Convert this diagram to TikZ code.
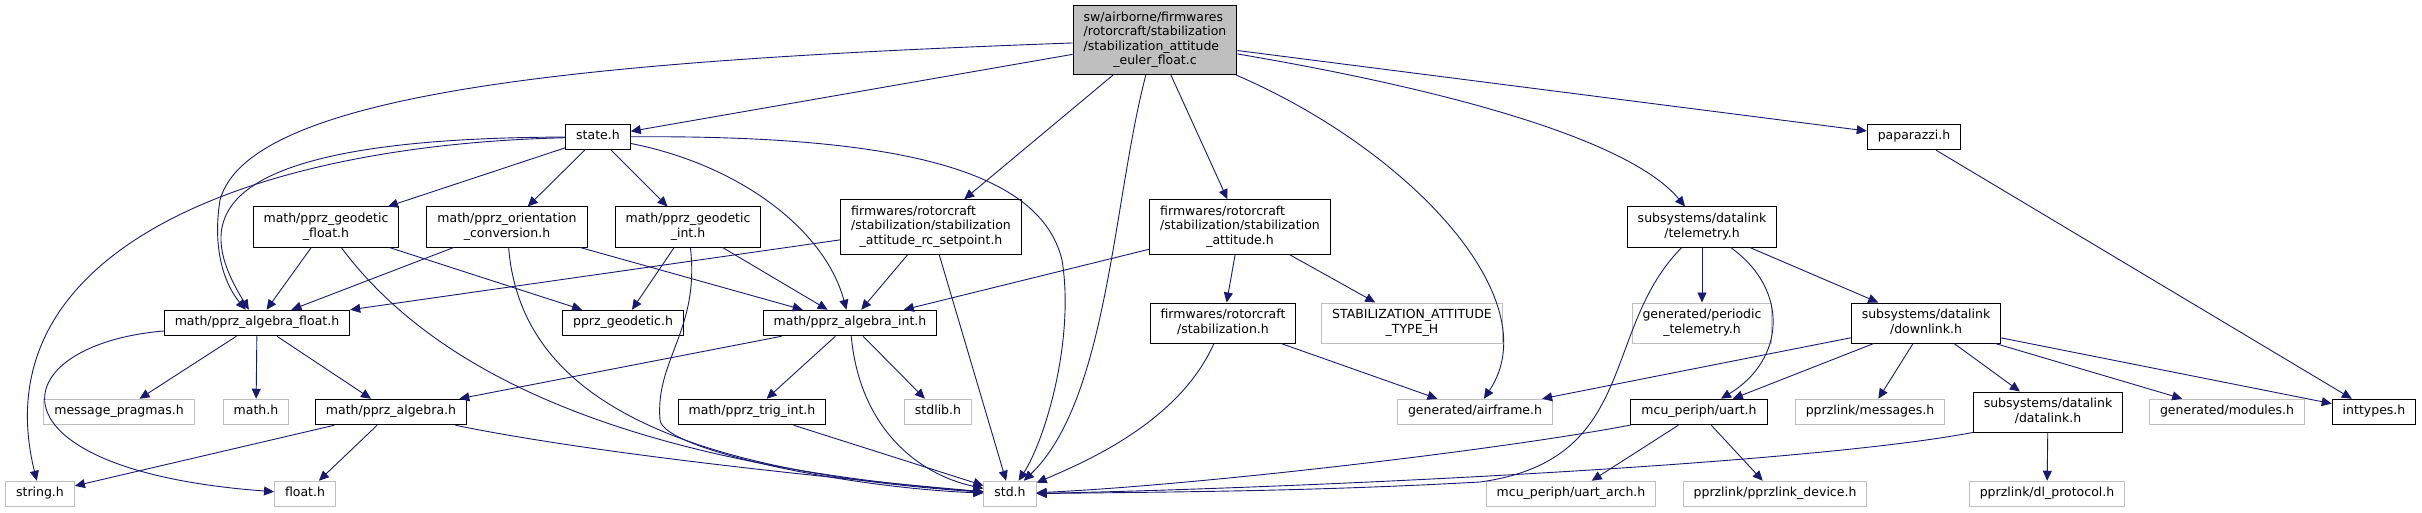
\documentclass[tikz,border=0pt]{standalone}
\usepackage{fontspec}
\setmainfont{DejaVu Sans}
\usepackage{tikz}
\usetikzlibrary{arrows.meta}
\usepackage{xcolor}
\definecolor{edgeblue}{RGB}{25,25,112}
\definecolor{grayline}{RGB}{191,191,191}
\definecolor{rootfill}{RGB}{191,191,191}
% doxygen style label: lines left aligned, last line centred
\newcommand\lbl[1]{\begin{tabular}{@{}l@{}}#1\end{tabular}}
\newcommand\lastc[1]{\multicolumn{1}{@{}c@{}}{#1}}

\tikzset{
  hdr/.style = {draw=black, fill=white, line width=1pt, inner xsep=10.5pt, inner ysep=5.5pt,
                font=\fontsize{12.5}{14.5}\selectfont},
  sys/.style = {hdr, draw=grayline},
  root/.style = {hdr, fill=rootfill},
  inc/.style = {draw=edgeblue, line width=0.9pt, -{Triangle[length=10pt,width=9pt]}}
}

\begin{document}
\begin{tikzpicture}[x=1pt, y=-1pt]
  \useasboundingbox (0,0) rectangle (2422,513);

  % rank 0 and 1
  \node[root] (mainc) at (1155,40) {\lbl{sw/airborne/firmwares\\/rotorcraft/stabilization\\/stabilization\_attitude\\\lastc{\_euler\_float.c}}};
  \node[hdr] (stateh) at (598,137) {\lbl{state.h}};
  \node[hdr] (paparazzi) at (1914,137) {\lbl{paparazzi.h}};

  % rank 2
  \node[hdr] (geofloat) at (326,227) {\lbl{math/pprz\_geodetic\\\lastc{\_float.h}}};
  \node[hdr] (orient) at (507,227) {\lbl{math/pprz\_orientation\\\lastc{\_conversion.h}}};
  \node[hdr] (geoint) at (688,227) {\lbl{math/pprz\_geodetic\\\lastc{\_int.h}}};
  \node[hdr] (rcsp) at (931,227) {\lbl{firmwares/rotorcraft\\/stabilization/stabilization\\\lastc{\_attitude\_rc\_setpoint.h}}};
  \node[hdr] (stabatt) at (1240,227) {\lbl{firmwares/rotorcraft\\/stabilization/stabilization\\\lastc{\_attitude.h}}};
  \node[hdr] (telem) at (1702,227) {\lbl{subsystems/datalink\\\lastc{/telemetry.h}}};

  % rank 3
  \node[hdr] (algfloat) at (257,323) {\lbl{math/pprz\_algebra\_float.h}};
  \node[hdr] (geodetic) at (623,323) {\lbl{pprz\_geodetic.h}};
  \node[hdr] (algint) at (850,323) {\lbl{math/pprz\_algebra\_int.h}};
  \node[hdr] (stabil) at (1223,323) {\lbl{firmwares/rotorcraft\\\lastc{/stabilization.h}}};
  \node[sys] (stabtype) at (1412,323) {\lbl{STABILIZATION\_ATTITUDE\\\lastc{\_TYPE\_H}}};
  \node[sys] (periodic) at (1702,323) {\lbl{generated/periodic\\\lastc{\_telemetry.h}}};
  \node[hdr] (downlink) at (1926,323) {\lbl{subsystems/datalink\\\lastc{/downlink.h}}};

  % rank 4
  \node[sys] (msgpragmas) at (119,412) {\lbl{message\_pragmas.h}};
  \node[sys] (mathh) at (256,412) {\lbl{math.h}};
  \node[hdr] (algebra) at (391,412) {\lbl{math/pprz\_algebra.h}};
  \node[hdr] (trigint) at (752,412) {\lbl{math/pprz\_trig\_int.h}};
  \node[sys] (stdlib) at (938,412) {\lbl{stdlib.h}};
  \node[sys] (airframe) at (1475,412) {\lbl{generated/airframe.h}};
  \node[hdr] (uart) at (1699,412) {\lbl{mcu\_periph/uart.h}};
  \node[sys] (messages) at (1870,412) {\lbl{pprzlink/messages.h}};
  \node[hdr] (datalink) at (2048,412) {\lbl{subsystems/datalink\\\lastc{/datalink.h}}};
  \node[sys] (modules) at (2227,412) {\lbl{generated/modules.h}};
  \node[hdr] (inttypes) at (2374,412) {\lbl{inttypes.h}};

  % rank 5
  \node[sys] (stringh) at (40,494) {\lbl{string.h}};
  \node[sys] (floath) at (305,494) {\lbl{float.h}};
  \node[sys] (stdh) at (1010,494) {\lbl{std.h}};
  \node[sys] (uartarch) at (1571,494) {\lbl{mcu\_periph/uart\_arch.h}};
  \node[sys] (pldevice) at (1775,494) {\lbl{pprzlink/pprzlink\_device.h}};
  \node[sys] (dlproto) at (2047,494) {\lbl{pprzlink/dl\_protocol.h}};

  % includes of the source file
  \draw[inc] (mainc) -- (stateh);
  \draw[inc] (mainc) -- (paparazzi);
  \draw[inc] (mainc) -- (rcsp);
  \draw[inc] (mainc) -- (stabatt);
  \draw[inc] (mainc) .. controls (1113,200) and (1108,400) .. (stdh);
  \draw[inc] (mainc) .. controls (1410,150) and (1550,300) .. (airframe);
  \draw[inc] (mainc) .. controls (1450,90) and (1630,140) .. (telem);
  \draw[inc] (mainc) .. controls (600,60) and (250,90) .. (220,200) .. controls (212,250) and (225,285) .. (algfloat);

  % state.h
  \draw[inc] (stateh) .. controls (180,138) and (200,230) .. (algfloat);
  \draw[inc] (stateh) .. controls (250,145) and (-20,250) .. (stringh);
  \draw[inc] (stateh) -- (geofloat);
  \draw[inc] (stateh) -- (orient);
  \draw[inc] (stateh) -- (geoint);
  \draw[inc] (stateh) .. controls (740,165) and (825,230) .. (algint);
  \draw[inc] (stateh) .. controls (900,135) and (1040,170) .. (1062,260) .. controls (1075,340) and (1045,440) .. (stdh);

  % geodetic and orientation headers
  \draw[inc] (geofloat) -- (algfloat);
  \draw[inc] (geofloat) -- (geodetic);
  \draw[inc] (geofloat) .. controls (440,380) and (640,465) .. (stdh);
  \draw[inc] (orient) -- (algfloat);
  \draw[inc] (orient) -- (algint);
  \draw[inc] (orient) .. controls (520,390) and (660,470) .. (stdh);
  \draw[inc] (geoint) -- (geodetic);
  \draw[inc] (geoint) -- (algint);
  \draw[inc] (geoint) .. controls (700,330) and (655,360) .. (660,420) .. controls (663,450) and (850,488) .. (stdh);

  % stabilization headers
  \draw[inc] (rcsp) -- (algfloat);
  \draw[inc] (rcsp) -- (algint);
  \draw[inc] (rcsp) -- (stdh);
  \draw[inc] (stabatt) -- (algint);
  \draw[inc] (stabatt) -- (stabil);
  \draw[inc] (stabatt) -- (stabtype);
  \draw[inc] (stabil) .. controls (1180,420) and (1090,460) .. (stdh);
  \draw[inc] (stabil) -- (airframe);

  % algebra
  \draw[inc] (algfloat) .. controls (0,345) and (-20,470) .. (floath);
  \draw[inc] (algfloat) -- (msgpragmas);
  \draw[inc] (algfloat) -- (mathh);
  \draw[inc] (algfloat) -- (algebra);
  \draw[inc] (algebra) -- (stringh);
  \draw[inc] (algebra) -- (floath);
  \draw[inc] (algebra) .. controls (600,455) and (850,480) .. (stdh);
  \draw[inc] (algint) -- (algebra);
  \draw[inc] (algint) -- (trigint);
  \draw[inc] (algint) .. controls (860,430) and (920,475) .. (stdh);
  \draw[inc] (algint) -- (stdlib);
  \draw[inc] (trigint) -- (stdh);

  % datalink side
  \draw[inc] (telem) -- (periodic);
  \draw[inc] (telem) .. controls (1790,290) and (1785,360) .. (uart);
  \draw[inc] (telem) -- (downlink);
  \draw[inc] (telem) .. controls (1600,330) and (1640,460) .. (1480,482) .. controls (1300,492) and (1150,492) .. (stdh);
  \draw[inc] (downlink) -- (airframe);
  \draw[inc] (downlink) -- (uart);
  \draw[inc] (downlink) -- (messages);
  \draw[inc] (downlink) -- (datalink);
  \draw[inc] (downlink) -- (modules);
  \draw[inc] (downlink) -- (inttypes);
  \draw[inc] (paparazzi) -- (inttypes);
  \draw[inc] (uart) .. controls (1500,450) and (1200,485) .. (stdh);
  \draw[inc] (uart) -- (uartarch);
  \draw[inc] (uart) -- (pldevice);
  \draw[inc] (datalink.south west) .. controls (1800,465) and (1300,488) .. (stdh);
  \draw[inc] (datalink) -- (dlproto);
\end{tikzpicture}
\end{document}
